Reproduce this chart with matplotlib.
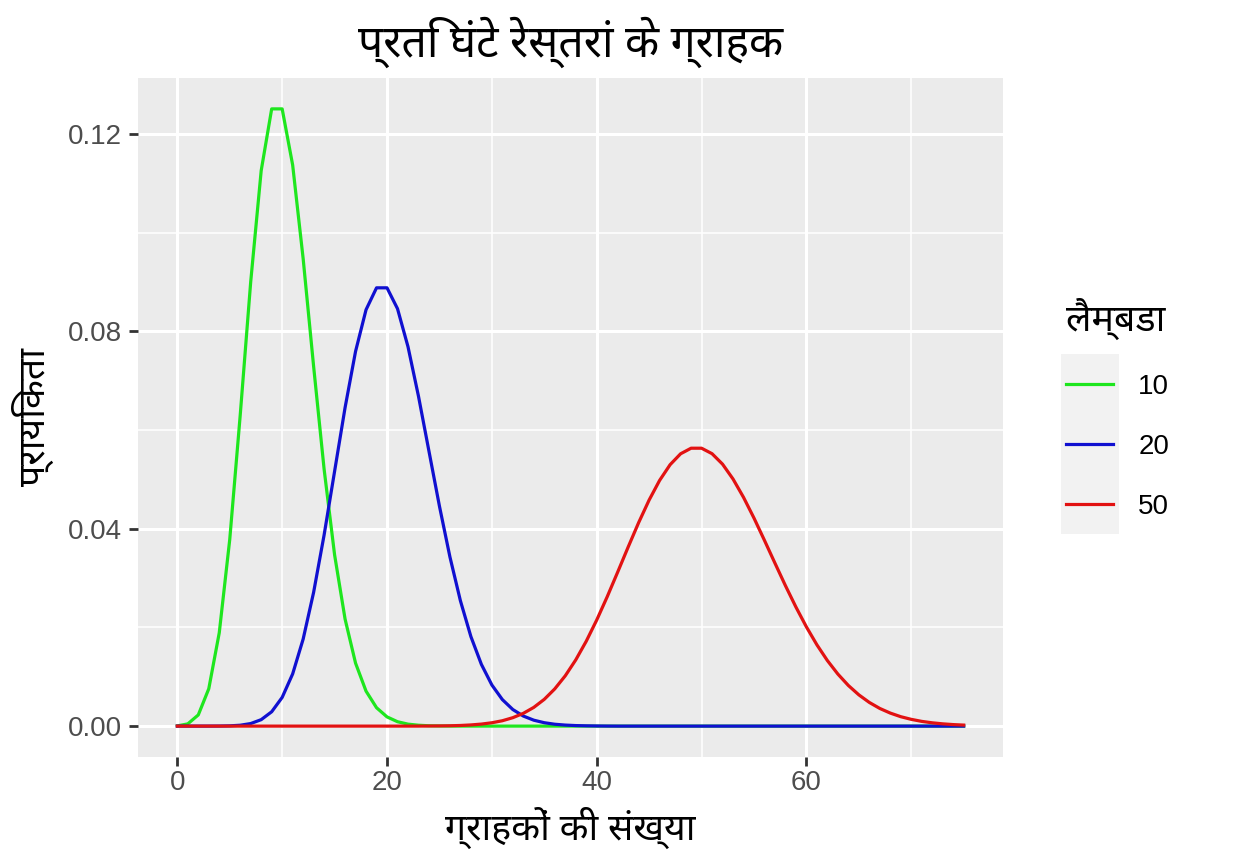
import matplotlib
matplotlib.use("Agg")
import matplotlib.pyplot as plt
from matplotlib.patches import Rectangle
from matplotlib.ticker import MultipleLocator

# ---------------- data ----------------
customers = list(range(0, 76))

prob_lambda10 = [0.0000454, 0.000454, 0.00227, 0.00757, 0.01892, 0.03783, 0.06306,
                 0.09008, 0.11260, 0.12511, 0.12511, 0.11374, 0.09478, 0.07291,
                 0.05208, 0.03472, 0.02170, 0.01276, 0.00709, 0.00373, 0.00187,
                 0.00089, 0.00040, 0.00018, 0.00007, 0.00003, 0.00001] + [0.0] * 49

prob_lambda20 = [0.0, 0.0, 0.0, 0.0000027, 0.0000137, 0.000055, 0.00018, 0.00052,
                 0.00131, 0.00291, 0.00582, 0.01058, 0.01763, 0.02712, 0.03874,
                 0.05165, 0.06456, 0.07596, 0.08440, 0.08884, 0.08884, 0.08461,
                 0.07691, 0.06688, 0.05573, 0.04459, 0.03430, 0.02541, 0.01815,
                 0.01252, 0.00834, 0.00538, 0.00336, 0.00204, 0.00120, 0.00069,
                 0.00038, 0.00021, 0.00011, 0.00006, 0.00003, 0.00001] + [0.0] * 34

prob_lambda50 = [0.0] * 24 + [0.00002, 0.00004, 0.00007, 0.00013, 0.00024, 0.00041,
                 0.00068, 0.00109, 0.00171, 0.00259, 0.00380, 0.00543, 0.00755,
                 0.01020, 0.01342, 0.01720, 0.02150, 0.02622, 0.03122, 0.03630,
                 0.04125, 0.04583, 0.04981, 0.05299, 0.05520, 0.05633, 0.05633,
                 0.05522, 0.05310, 0.05009, 0.04638, 0.04217, 0.03765, 0.03303,
                 0.02847, 0.02413, 0.02011, 0.01648, 0.01329, 0.01055, 0.00824,
                 0.00634, 0.00480, 0.00358, 0.00264, 0.00191, 0.00137, 0.00096,
                 0.00067, 0.00046, 0.00031, 0.00021]

series_labels = ["10", "20", "50"]
series_colors = ["#1EE61E", "#1010D0", "#E21212"]

x_ticks = [0, 20, 40, 60]
y_ticks = [0.00, 0.04, 0.08, 0.12]
y_tick_labels = ["0.00", "0.04", "0.08", "0.12"]

title_text = "प्रति घंटे रेस्तरां के ग्राहक"
x_label_text = "ग्राहकों की संख्या"
y_label_text = "प्रायिकता"
legend_title_text = "लैम्बडा"

# ---------------- styling ----------------
DEVA = ["Noto Sans Devanagari", "Noto Sans Devanagari UI", "Mukta", "DejaVu Sans"]
NUM = ["Liberation Sans", "DejaVu Sans"]
W, H = 1234, 864
TICK_FS = 20
LAB_FS = 27
TITLE_FS = 32

fig = plt.figure(figsize=(W / 100, H / 100), dpi=100)
fig.patch.set_facecolor("white")
ax = fig.add_axes([138 / W, 1 - 757 / H, (1003 - 138) / W, (757 - 78) / H])
ax.set_facecolor("#EBEBEB")
for s in ax.spines.values():
    s.set_visible(False)

series = [prob_lambda10, prob_lambda20, prob_lambda50]
for vals, lab, col in zip(series, series_labels, series_colors):
    ax.plot(customers, vals, color=col, lw=2.3, label=lab, solid_joinstyle="round")

ax.set_xlim(-3.75, 78.75)
ax.set_ylim(-0.00626, 0.13137)
ax.set_xticks(x_ticks)
ax.set_yticks(y_ticks)
ax.set_yticklabels(y_tick_labels)
ax.xaxis.set_minor_locator(MultipleLocator(10))
ax.yaxis.set_minor_locator(MultipleLocator(0.02))
ax.grid(which="major", color="white", lw=2.2)
ax.grid(which="minor", color="white", lw=1.1)
ax.set_axisbelow(True)
ax.tick_params(which="major", length=6.5, width=2.0, color="#333333",
               labelsize=TICK_FS, labelcolor="#4D4D4D")
ax.tick_params(axis="x", which="major", pad=3)
ax.tick_params(axis="y", which="major", pad=5)
ax.tick_params(which="minor", length=0)
for t in ax.get_xticklabels() + ax.get_yticklabels():
    t.set_fontfamily(NUM)

fig.text((138 + 1003) / 2 / W, 1 - 42 / H, title_text, ha="center", va="center",
         fontsize=TITLE_FS, family=DEVA, color="black")
fig.text((138 + 1003) / 2 / W, 1 - 828 / H, x_label_text, ha="center", va="center",
         fontsize=LAB_FS, family=DEVA, color="black")
fig.text(33 / W, 1 - 417 / H, y_label_text, ha="center", va="center", rotation=90,
         fontsize=LAB_FS, family=DEVA, color="black")

leg = fig.legend(loc="upper left", bbox_to_anchor=(1055 / W, 1 - 287 / H),
                 frameon=False, title=legend_title_text, handlelength=1.7,
                 handletextpad=0.9, labelspacing=1.22, borderaxespad=0,
                 prop={"family": NUM, "size": TICK_FS},
                 title_fontproperties={"family": DEVA, "size": LAB_FS})
leg._legend_box.align = "left"
for lh in leg.legend_handles:
    lh.set_linewidth(2.3)

fig.canvas.draw()
r = fig.canvas.get_renderer()
bbs = [lh.get_window_extent(r) for lh in leg.legend_handles]
x0 = min(b.x0 for b in bbs) - 5
x1 = max(b.x1 for b in bbs) + 6
yc = sorted([(b.y0 + b.y1) / 2 for b in bbs])
step = (yc[-1] - yc[0]) / 2
y0 = yc[0] - step / 2
y1 = yc[-1] + step / 2
fig.patches.append(Rectangle((x0 / W, y0 / H), (x1 - x0) / W, (y1 - y0) / H,
                             transform=fig.transFigure, facecolor="#F2F2F2",
                             edgecolor="none", zorder=0))

fig.savefig("out.png", dpi=100)
